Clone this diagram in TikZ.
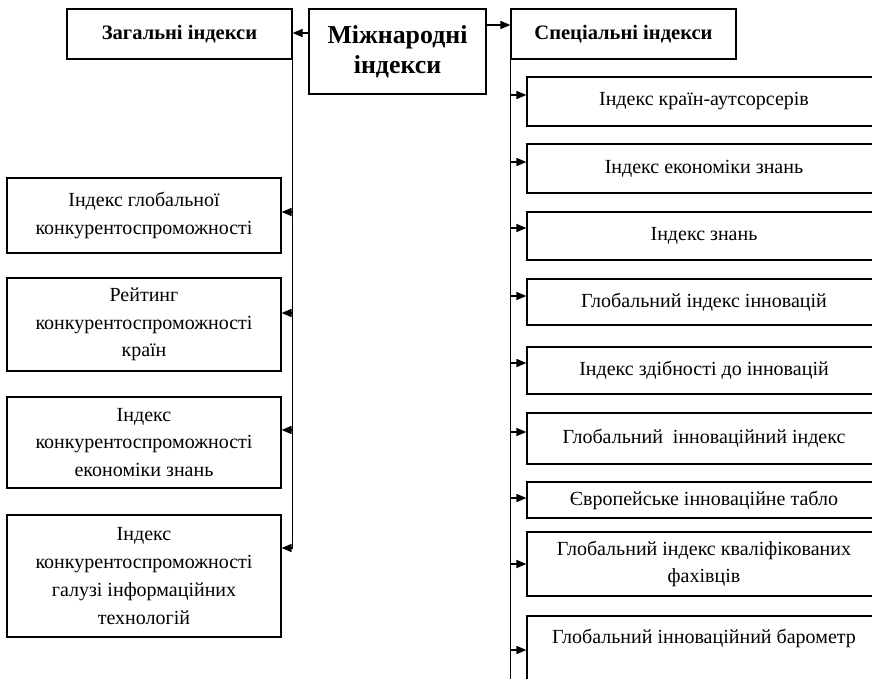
\documentclass[tikz,border=0pt]{standalone}
\usepackage{fontspec}
\setmainfont{Liberation Serif}
\usetikzlibrary{arrows.meta}
\begin{document}
\begin{tikzpicture}[x=0.75pt,y=-0.75pt,
  box/.style={draw,line width=0.9pt,align=center,inner sep=2pt,font=\fontsize{15}{20.8}\selectfont},
  hbox/.style={box,font=\fontsize{15.4}{17}\selectfont\bfseries},
  lbox/.style={box,minimum width=205.5pt},
  rbox/.style={box,minimum width=265.5pt},
  arr/.style={line width=1.2pt,-{Triangle[length=7.5pt,width=6pt]}},
  ln/.style={line width=0.8pt}]
\useasboundingbox (0,0) rectangle (872,679);
\clip (0,0) rectangle (872,679);
% top row
\node[hbox,minimum width=168.75pt,minimum height=37.5pt] (gen) at (179.5,34) {Загальні індекси};
\node[box,minimum width=132.75pt,minimum height=63.75pt,font=\fontsize{19.4}{22.5}\selectfont\bfseries] (main) at (397.5,51.5) {Міжнародні\\індекси};
\node[hbox,minimum width=168.75pt,minimum height=37.5pt] (spec) at (623.5,34) {Спеціальні індекси};
\draw[arr] (main.west |- 0,33) -- (gen.east |- 0,33);
\draw[arr] (main.east |- 0,25) -- (spec.west |- 0,25);
% left column
\node[lbox,minimum height=56.25pt] (L1) at (144,215.5) {Індекс глобальної\\конкурентоспроможності};
\node[lbox,minimum height=69.75pt] (L2) at (144,324.5) {Рейтинг\\конкурентоспроможності\\країн};
\node[lbox,minimum height=68.25pt] (L3) at (144,442.5) {Індекс\\конкурентоспроможності\\економіки знань};
\node[lbox,minimum height=91.5pt] (L4) at (144,576) {Індекс\\конкурентоспроможності\\галузі інформаційних\\технологій};
\draw[ln] (gen.south east) -- (gen.south east |- 0,548);
\draw[arr] (gen.south east |- 0,212) -- (L1.east |- 0,212);
\draw[arr] (gen.south east |- 0,313) -- (L2.east |- 0,313);
\draw[arr] (gen.south east |- 0,430) -- (L3.east |- 0,430);
\draw[arr] (gen.south east |- 0,548) -- (L4.east |- 0,548);
% right column
\node[rbox,minimum height=36.75pt] (R1) at (704,101.5) {Індекс країн-аутсорсерів};
\node[rbox,minimum height=36.75pt] (R2) at (704,168.5) {Індекс економіки знань};
\node[rbox,minimum height=36pt] (R3) at (704,236) {Індекс знань};
\node[rbox,minimum height=34.5pt] (R4) at (704,302) {Глобальний індекс інновацій};
\node[rbox,minimum height=35.25pt] (R5) at (704,370.5) {Індекс здібності до інновацій};
\node[rbox,minimum height=38.25pt] (R6) at (704,438.5) {Глобальний\ \ інноваційний індекс};
\node[rbox,minimum height=27pt] (R7) at (704,500) {Європейське інноваційне табло};
\node[rbox,minimum height=48pt] (R8) at (704,564) {Глобальний індекс кваліфікованих\\фахівців};
\node[rbox,minimum height=63pt] (R9) at (704,658) {};
\node[font=\fontsize{15}{20.8}\selectfont] (R9t) at (704,638) {Глобальний інноваційний барометр};
\draw[ln] (spec.south west) -- (spec.south west |- 0,690);
\draw[arr] (spec.south west |- 0,95) -- (R1.west |- 0,95);
\draw[arr] (spec.south west |- 0,162) -- (R2.west |- 0,162);
\draw[arr] (spec.south west |- 0,228) -- (R3.west |- 0,228);
\draw[arr] (spec.south west |- 0,296) -- (R4.west |- 0,296);
\draw[arr] (spec.south west |- 0,363) -- (R5.west |- 0,363);
\draw[arr] (spec.south west |- 0,432) -- (R6.west |- 0,432);
\draw[arr] (spec.south west |- 0,498) -- (R7.west |- 0,498);
\draw[arr] (spec.south west |- 0,564) -- (R8.west |- 0,564);
\draw[arr] (spec.south west |- 0,650) -- (R9.west |- 0,650);
\end{tikzpicture}
\end{document}
